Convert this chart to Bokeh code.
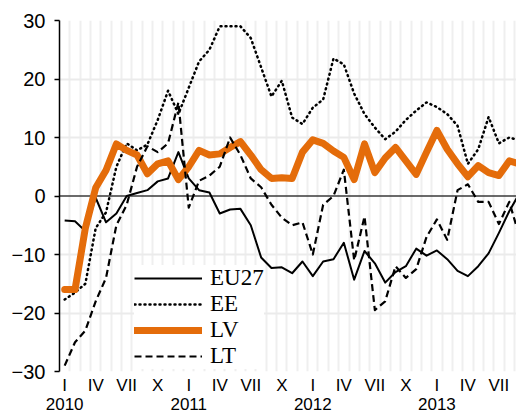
from bokeh.plotting import figure
from bokeh.models import Range1d, FixedTicker, LinearAxis, Span, Legend, LegendItem
from bokeh.embed import file_html
from bokeh.resources import INLINE

# months since Jan 2010
months = list(range(45))
month_tick_pos = [0, 3, 6, 9, 12, 15, 18, 21, 24, 27, 30, 33, 36, 39, 42]
month_tick_labels = ["I", "IV", "VII", "X"] * 3 + ["I", "IV", "VII"]
year_tick_pos = [0, 12, 24, 36]
year_tick_labels = ["2010", "2011", "2012", "2013"]

eu27 = [-4.2, -4.3, -6.0, -0.3, -4.5, -3.0, 0.0, 0.5, 1.0, 2.5, 3.0, 7.5, 3.0, 1.0, 0.6,
        -3.0, -2.3, -2.2, -5.0, -10.5, -12.3, -12.2, -13.2, -11.2, -13.7, -11.2, -10.8, -8.0,
        -14.3, -9.4, -11.5, -14.8, -13.0, -12.0, -9.0, -10.2, -9.3, -10.8, -12.8, -13.7,
        -12.0, -9.8, -6.3, -2.6, 0.5]
ee = [-17.7, -16.5, -15.0, -5.5, -2.8, 5.0, 9.0, 7.8, 8.8, 13.0, 18.0, 14.0, 18.5, 23.0, 25.0,
      29.0, 29.0, 29.0, 27.0, 22.0, 17.0, 19.7, 13.4, 12.3, 15.1, 16.5, 23.5, 22.5, 17.5, 14.0,
      11.7, 9.7, 11.0, 13.0, 14.6, 16.0, 15.2, 14.0, 12.0, 5.5, 8.0, 13.5, 9.0, 10.0, 9.5]
lv = [-16.0, -16.0, -5.5, 1.4, 4.4, 8.9, 7.8, 7.0, 3.8, 5.5, 6.0, 2.8, 5.0, 7.8, 7.0,
      7.2, 8.3, 9.3, 7.0, 4.5, 3.0, 3.1, 3.0, 7.5, 9.6, 9.0, 7.7, 6.6, 2.8, 8.9,
      4.0, 6.5, 8.3, 6.0, 3.7, 7.5, 11.2, 8.0, 5.5, 3.3, 5.2, 4.0, 3.5, 6.0, 5.5]
lt = [-29.0, -25.0, -23.0, -18.0, -14.0, -5.0, -1.5, 5.0, 8.5, 7.5, 9.0, 16.0, -2.0, 2.6, 3.5,
      5.0, 10.0, 7.0, 3.0, 1.5, -1.5, -3.7, -5.0, -4.5, -10.0, -1.5, 0.0, 4.5, -11.0, -3.5,
      -19.5, -18.0, -12.0, -14.0, -12.5, -7.0, -4.0, -7.5, 1.0, 2.0, -1.0, -1.0, -4.8, -1.0, -7.0]

p = figure(width=516, height=412, output_backend="svg", toolbar_location=None,
           x_range=Range1d(-0.5, 43.7), y_range=Range1d(-30, 30),
           min_border_left=59, min_border_right=0, min_border_top=20, min_border_bottom=0)
p.outline_line_color = None
p.background_fill_color = "white"

# grids
p.xgrid.ticker = FixedTicker(ticks=[k + 0.5 for k in range(44)])
p.xgrid.grid_line_color = "#efefef"
p.xgrid.grid_line_width = 2
p.ygrid.ticker = FixedTicker(ticks=[-30, -20, -10, 10, 20, 30])
p.ygrid.grid_line_color = "#ebebeb"
p.ygrid.grid_line_width = 2

# y axis
ya = p.yaxis[0]
ya.ticker = FixedTicker(ticks=[-30, -20, -10, 0, 10, 20, 30])
ya.axis_line_color = "black"
ya.axis_line_width = 1.5
ya.major_tick_in = 0
ya.major_tick_out = 5
ya.major_tick_line_width = 1.5
ya.minor_tick_line_color = None
ya.major_label_standoff = 9
ya.major_label_text_font = "Liberation Sans"
ya.major_label_text_font_size = "20px"
ya.major_label_text_color = "black"

# month axis
xa = p.xaxis[0]
xa.ticker = FixedTicker(ticks=month_tick_pos)
xa.major_label_overrides = {pos: lab for pos, lab in zip(month_tick_pos, month_tick_labels)}
xa.axis_line_color = None
xa.major_tick_line_color = None
xa.major_tick_in = 0
xa.major_tick_out = 0
xa.minor_tick_line_color = None
xa.minor_tick_in = 0
xa.minor_tick_out = 0
xa.major_label_standoff = 4
xa.major_label_text_font = "Liberation Sans"
xa.major_label_text_font_size = "17px"
xa.major_label_text_color = "black"

# year axis
xa2 = LinearAxis(ticker=FixedTicker(ticks=year_tick_pos),
                 major_label_overrides={pos: lab for pos, lab in zip(year_tick_pos, year_tick_labels)})
xa2.axis_line_color = None
xa2.major_tick_line_color = None
xa2.major_tick_in = 0
xa2.major_tick_out = 0
xa2.minor_tick_line_color = None
xa2.minor_tick_in = 0
xa2.minor_tick_out = 0
xa2.major_label_standoff = 0
xa2.major_label_text_font = "Liberation Sans"
xa2.major_label_text_font_size = "17px"
xa2.major_label_text_color = "black"
p.add_layout(xa2, "below")

zero = Span(location=0, dimension="width", line_color="#3a3a3a", line_width=1.5, level="underlay")
p.add_layout(zero)

r_eu = p.line(months, eu27, line_color="black", line_width=2, line_join="round")
r_ee = p.line(months, ee, line_color="black", line_width=2.5, line_dash="1 4", line_cap="round", line_join="round")
r_lv = p.line(months, lv, line_color="#E46C0A", line_width=7, line_join="round", line_cap="round")
r_lt = p.line(months, lt, line_color="black", line_width=2.2, line_dash="7 4", line_join="round")

legend = Legend(items=[LegendItem(label="EU27", renderers=[r_eu]),
                       LegendItem(label="EE", renderers=[r_ee]),
                       LegendItem(label="LV", renderers=[r_lv]),
                       LegendItem(label="LT", renderers=[r_lt])],
                location=(75, 2))
legend.label_text_font = "Liberation Serif"
legend.label_text_font_size = "23px"
legend.label_text_color = "black"
legend.glyph_width = 68
legend.glyph_height = 20
legend.label_height = 24
legend.label_standoff = 8
legend.spacing = 0
legend.padding = 4
legend.margin = 0
legend.background_fill_color = "white"
legend.background_fill_alpha = 1
legend.border_line_color = None
p.add_layout(legend)

open("out.html", "w").write(file_html(p, INLINE))
